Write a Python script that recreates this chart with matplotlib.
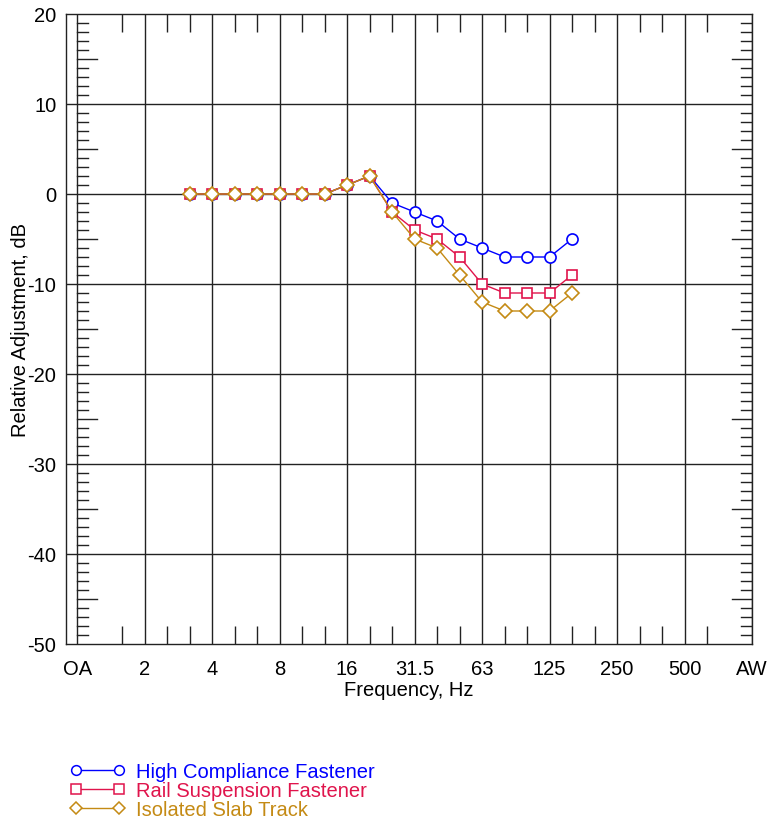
import matplotlib.pyplot as plt
from matplotlib.lines import Line2D

plt.rcParams['font.family'] = ['Liberation Sans', 'DejaVu Sans']
plt.rcParams['axes.unicode_minus'] = False

# x positions are third-octave steps: OA = 0, 2 Hz = 3, ... AW = 30
band_labels = ['OA', '2', '4', '8', '16', '31.5', '63', '125', '250', '500', 'AW']
band_pos = [0, 3, 6, 9, 12, 15, 18, 21, 24, 27, 30]

# 3.15 Hz .. 160 Hz third-octave bands
freq_idx = [5, 6, 7, 8, 9, 10, 11, 12, 13, 14, 15, 16, 17, 18, 19, 20, 21, 22]

high_compliance = [0, 0, 0, 0, 0, 0, 0, 1, 2, -1, -2, -3, -5, -6, -7, -7, -7, -5]
rail_suspension = [0, 0, 0, 0, 0, 0, 0, 1, 2, -2, -4, -5, -7, -10, -11, -11, -11, -9]
isolated_slab = [0, 0, 0, 0, 0, 0, 0, 1, 2, -2, -5, -6, -9, -12, -13, -13, -13, -11]

series = [
    ('High Compliance Fastener', high_compliance, '#0000ff', 'o', 8),
    ('Rail Suspension Fastener', rail_suspension, '#e0144c', 's', 7.5),
    ('Isolated Slab Track', isolated_slab, '#c48a14', 'D', 7),
]

FS = 14.5

fig = plt.figure(figsize=(7.68, 8.2), dpi=100)
ax = fig.add_axes([66 / 768, 175 / 820, 686 / 768, 630 / 820])

ax.set_xlim(-0.5, 30)
ax.set_ylim(-50, 20)

# grid
for p in band_pos:
    ax.axvline(p, color='#222222', lw=1, zorder=1)
for y in range(-40, 20, 10):
    ax.axhline(y, color='#222222', lw=1, zorder=1)

# y minor ticks drawn at OA line (left) and at right edge
px = 1 / 22.87
for y in range(-49, 20):
    if y % 10 == 0:
        continue
    ln = 20 * px if y % 5 == 0 else 11 * px
    ax.plot([0, ln], [y, y], color='#222222', lw=1, zorder=1)
    ax.plot([30 - ln, 30], [y, y], color='#222222', lw=1, zorder=1)

handles = []
for name, vals, col, mk, ms in series:
    ax.plot(freq_idx, vals, color=col, lw=1, marker=mk, ms=ms,
            mfc='white', mec=col, mew=1.2, zorder=3, clip_on=False)
    handles.append(Line2D([], [], color=col, lw=1, marker=mk, ms=ms - 1,
                          mfc='white', mec=col, mew=1.1, label=name))

ax.set_xticks(band_pos)
ax.set_xticklabels(band_labels)
minor_x = [i for i in range(2, 29) if i % 3 != 0]
ax.set_xticks(minor_x, minor=True)
ax.tick_params(axis='x', which='major', length=0, pad=11, labelsize=FS)
ax.tick_params(axis='x', which='minor', direction='in', length=13, width=1,
               top=True, bottom=True, color='#222222')

ax.set_yticks(range(-50, 21, 10))
ax.tick_params(axis='y', which='major', length=0, pad=7, labelsize=FS)

for s in ax.spines.values():
    s.set_color('#222222')
    s.set_linewidth(1)

ax.set_xlabel('Frequency, Hz', fontsize=FS, labelpad=1)
ax.set_ylabel('Relative Adjustment, dB', fontsize=FS, labelpad=-2)

leg = fig.legend(handles=handles, loc='upper left', bbox_to_anchor=(60 / 768, 1 - 753 / 820),
                 frameon=False, numpoints=2, handlelength=2.75, handletextpad=0.5,
                 labelspacing=0.0, fontsize=FS, labelcolor='linecolor', borderpad=0)

fig.savefig('out.png', dpi=100)
